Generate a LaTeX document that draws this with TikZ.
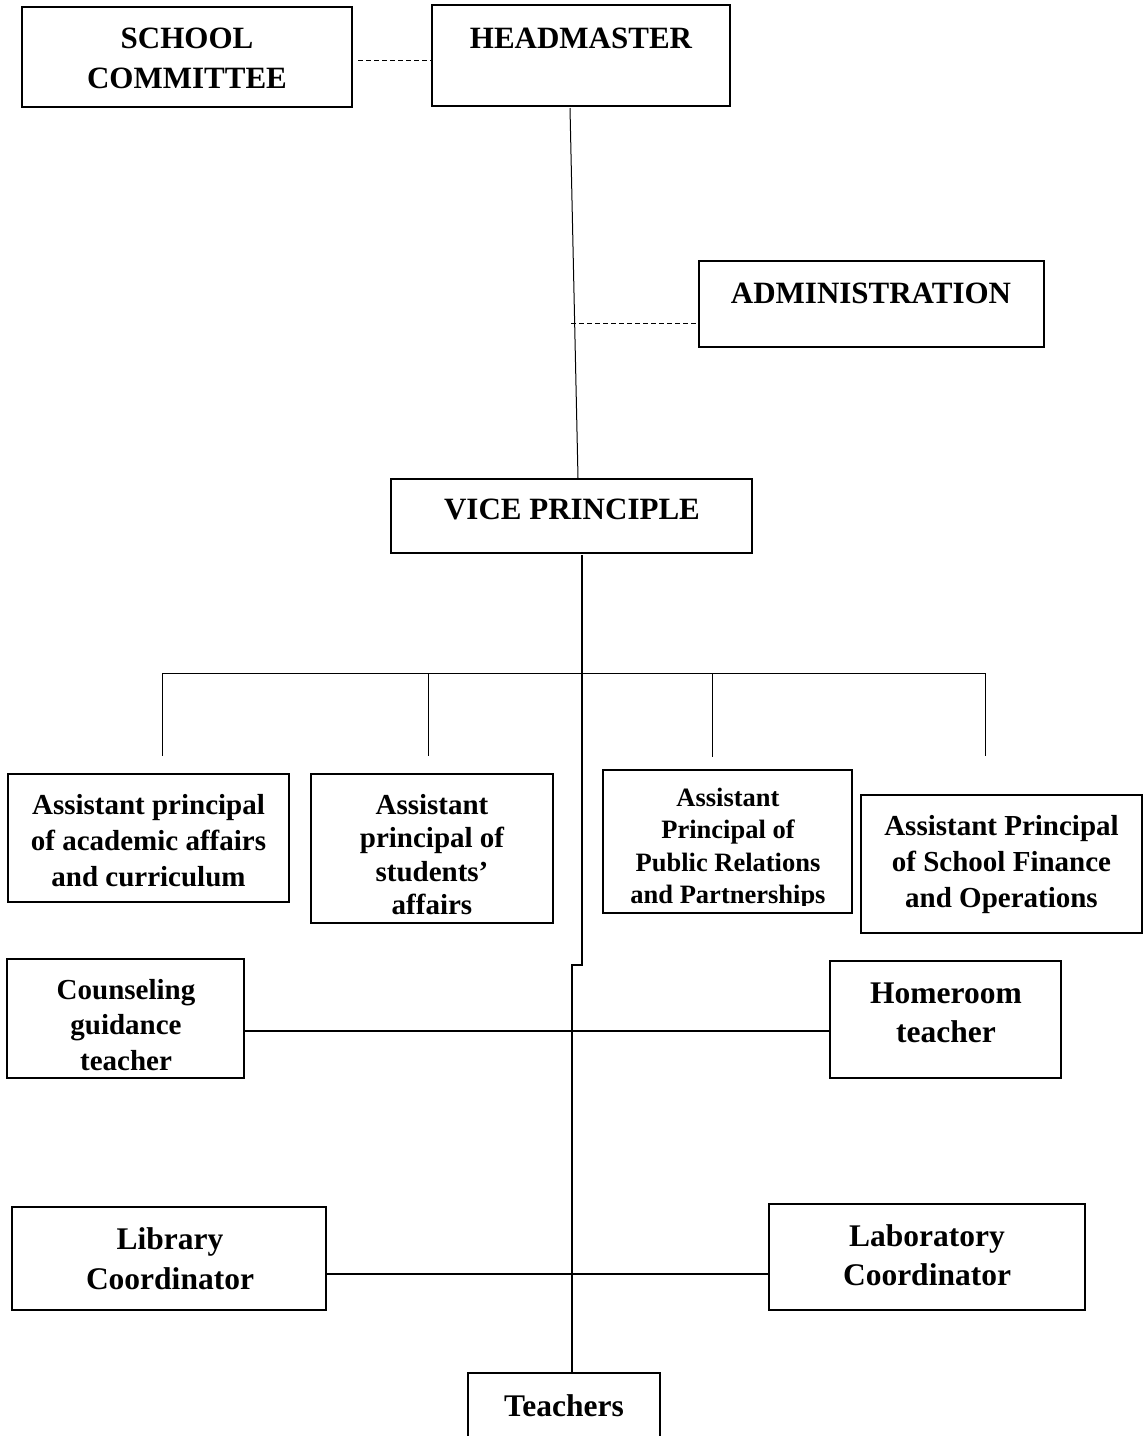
\documentclass[tikz,border=0pt]{standalone}
\usepackage{fontspec}
\setmainfont{Liberation Serif}
\newcommand\lbltext[3]{\fontsize{#1}{#2}\selectfont\begin{tabular}[t]{@{}c@{}}#3\end{tabular}}
\begin{document}
\begin{tikzpicture}[x=1pt,y=-1pt,
  box/.style={draw, line width=1.6pt, inner sep=0pt, outer sep=0pt},
  lbl/.style={anchor=base, inner sep=0pt, outer sep=0pt, font=\bfseries},
  thinline/.style={line width=1pt},
  mainline/.style={line width=1.4pt},
  heavyline/.style={line width=2.4pt},
  dashline/.style={line width=1pt, dash pattern=on 5pt off 3pt}]
\useasboundingbox (0,0) rectangle (1143,1436);
\fill[white] (0,0) rectangle (1143,1436);

% boxes
\node[box, minimum width=330pt, minimum height=100pt] (sc) at (187,57) {};
\node[box, minimum width=298pt, minimum height=101pt] (hm) at (581,55.5) {};
\node[box, minimum width=345pt, minimum height=86pt] (ad) at (871.5,304) {};
\node[box, minimum width=361pt, minimum height=74pt] (vp) at (571.5,516) {};
\node[box, minimum width=281pt, minimum height=128pt] (ap1) at (148.5,838) {};
\node[box, minimum width=242pt, minimum height=149pt] (ap2) at (432,848.5) {};
\node[box, minimum width=249pt, minimum height=143pt] (ap3) at (727.5,841.5) {};
\node[box, minimum width=281pt, minimum height=138pt] (ap4) at (1001.5,864) {};
\node[box, minimum width=237pt, minimum height=119pt] (cg) at (125.5,1018.5) {};
\node[box, minimum width=231pt, minimum height=117pt] (hr) at (945.5,1019.5) {};
\node[box, minimum width=314pt, minimum height=103pt] (lib) at (169,1258.5) {};
\node[box, minimum width=316pt, minimum height=106pt] (lab) at (927,1257) {};
\node[box, minimum width=192pt, minimum height=72pt] (tc) at (564,1409) {};

% labels
\node[lbl] (sct) at (187,48) {\lbltext{31}{40}{SCHOOL\\COMMITTEE}};
\node[lbl] (hmt) at (581,48) {\lbltext{31}{40}{HEADMASTER}};
\node[lbl] (adt) at (871,303) {\lbltext{31}{40}{ADMINISTRATION}};
\node[lbl] (vpt) at (572,519) {\lbltext{31}{40}{VICE PRINCIPLE}};
\node[lbl] (ap1t) at (148.5,814) {\lbltext{29}{36}{Assistant principal\\of academic affairs\\and curriculum}};
\node[lbl] (ap2t) at (432,814) {\lbltext{29}{33.5}{Assistant\\principal of\\students'\\affairs}};
\begin{scope}
\clip (603,770) rectangle (852,905);
\node[lbl] (ap3t) at (728,806) {\lbltext{26.5}{32.5}{Assistant\\Principal of\\Public Relations\\and Partnerships}};
\end{scope}
\node[lbl] (ap4t) at (1001.5,835) {\lbltext{29}{36}{Assistant Principal\\of School Finance\\and Operations}};
\node[lbl] (cgt) at (126,999) {\lbltext{29}{35.5}{Counseling\\guidance\\teacher}};
\node[lbl] (hrt) at (946,1003) {\lbltext{31.5}{39}{Homeroom\\teacher}};
\node[lbl] (libt) at (170,1249) {\lbltext{31.5}{40}{Library\\Coordinator}};
\node[lbl] (labt) at (927,1246) {\lbltext{31.5}{39}{Laboratory\\Coordinator}};
\node[lbl] (tct) at (564,1416) {\lbltext{31.5}{40}{Teachers}};

% coordinates
\coordinate (hmout) at (570,108);
\coordinate (vpin) at (578,478);
\coordinate (adjoin) at (571,323);
\coordinate (scdash) at (358,60);
\coordinate (vpout) at (582,555);
\coordinate (jog1) at (582,965);
\coordinate (jog2) at (572,965);
\coordinate (barL) at (162,673);
\coordinate (barR) at (985,673);
\coordinate (d1) at (162,756);
\coordinate (d2t) at (428,673);
\coordinate (d2) at (428,756);
\coordinate (d3t) at (712,673);
\coordinate (d3) at (712,757);
\coordinate (d4) at (985,756);

% connectors
\draw[dashline] (scdash) -- (scdash -| hm.west);
\draw[thinline] (hmout) -- (vpin);
\draw[dashline] (adjoin) -- (adjoin -| ad.west);
\draw[mainline] (vpout) -- (jog1) -- (jog2) -- (jog2 |- tc.north);
\draw[thinline] (barL) -- (barR);
\draw[thinline] (barL) -- (d1);
\draw[thinline] (d2t) -- (d2);
\draw[thinline] (d3t) -- (d3);
\draw[thinline] (barR) -- (d4);
\draw[heavyline] (cg.east |- 0,1031) -- (hr.west |- 0,1031);
\draw[heavyline] (lib.east |- 0,1274) -- (lab.west |- 0,1274);
\end{tikzpicture}
\end{document}
